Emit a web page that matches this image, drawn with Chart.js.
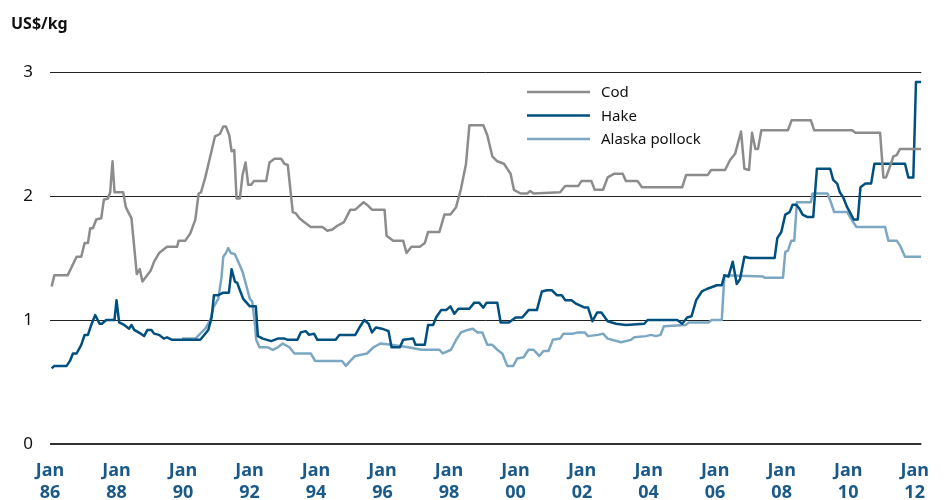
<!DOCTYPE html>
<html>
<head>
<meta charset="utf-8">
<title>Fish prices US$/kg</title>
<script src="https://cdn.jsdelivr.net/npm/chart.js@4/dist/chart.umd.min.js"></script>
<style>
  html, body { margin: 0; padding: 0; background: #fff; }
  #wrap { width: 945px; height: 500px; }
</style>
</head>
<body>
<div id="wrap"><canvas id="priceChart" width="945" height="500"></canvas></div>
<script>
// values, x = decimal year, y = US$/kg
const codYears = [1986.05, 1986.13, 1986.53, 1986.80, 1986.94, 1987.04, 1987.14, 1987.21, 1987.29, 1987.39,
  1987.54, 1987.62, 1987.74, 1987.81, 1987.88, 1987.94, 1988.20, 1988.28, 1988.45, 1988.61,
  1988.70, 1988.78, 1989.03, 1989.13, 1989.28, 1989.52, 1989.82, 1989.87, 1990.07, 1990.22,
  1990.37, 1990.47, 1990.54, 1990.67, 1990.82, 1990.96, 1991.11, 1991.21, 1991.29, 1991.39,
  1991.46, 1991.54, 1991.61, 1991.71, 1991.79, 1991.88, 1991.96, 1992.05, 1992.13, 1992.50,
  1992.60, 1992.75, 1992.95, 1993.05, 1993.15, 1993.30, 1993.39, 1993.50, 1993.64, 1993.84,
  1994.19, 1994.34, 1994.49, 1994.64, 1994.84, 1995.03, 1995.18, 1995.43, 1995.53, 1995.68,
  1996.06, 1996.12, 1996.32, 1996.62, 1996.72, 1996.87, 1997.12, 1997.27, 1997.37, 1997.71,
  1997.86, 1998.04, 1998.21, 1998.36, 1998.51, 1998.61, 1999.03, 1999.15, 1999.30, 1999.45,
  1999.65, 1999.85, 1999.95, 2000.15, 2000.35, 2000.44, 2000.54, 2001.34, 2001.49, 2001.88,
  2001.98, 2002.28, 2002.38, 2002.63, 2002.77, 2002.97, 2003.22, 2003.32, 2003.67, 2003.80,
  2005.01, 2005.13, 2005.78, 2005.88, 2006.30, 2006.45, 2006.60, 2006.78, 2006.88, 2007.02,
  2007.11, 2007.21, 2007.29, 2007.39, 2008.19, 2008.30, 2008.88, 2008.98, 2010.12, 2010.22,
  2010.96, 2011.06, 2011.14, 2011.26, 2011.36, 2011.46, 2011.56, 2012.20];
const codValues = [1.27, 1.36, 1.36, 1.51, 1.51, 1.62, 1.62, 1.74, 1.74, 1.81,
  1.82, 1.97, 1.98, 2.03, 2.28, 2.03, 2.03, 1.91, 1.82, 1.37,
  1.41, 1.31, 1.40, 1.47, 1.54, 1.59, 1.59, 1.64, 1.64, 1.70,
  1.81, 2.02, 2.03, 2.15, 2.32, 2.48, 2.50, 2.56, 2.56, 2.49,
  2.36, 2.37, 1.98, 1.98, 2.17, 2.27, 2.09, 2.09, 2.12, 2.12,
  2.27, 2.30, 2.30, 2.26, 2.25, 1.87, 1.86, 1.82, 1.79, 1.75,
  1.75, 1.72, 1.73, 1.76, 1.79, 1.89, 1.89, 1.95, 1.93, 1.89,
  1.89, 1.68, 1.64, 1.64, 1.54, 1.59, 1.59, 1.62, 1.71, 1.71,
  1.85, 1.85, 1.91, 2.06, 2.26, 2.57, 2.57, 2.49, 2.32, 2.28,
  2.26, 2.18, 2.05, 2.02, 2.02, 2.04, 2.02, 2.03, 2.08, 2.08,
  2.12, 2.12, 2.05, 2.05, 2.15, 2.18, 2.18, 2.12, 2.12, 2.07,
  2.07, 2.17, 2.17, 2.21, 2.21, 2.29, 2.34, 2.52, 2.22, 2.21,
  2.51, 2.38, 2.38, 2.53, 2.53, 2.61, 2.61, 2.53, 2.53, 2.51,
  2.51, 2.15, 2.15, 2.24, 2.32, 2.33, 2.38, 2.38];

const hakeYears = [1986.05, 1986.13, 1986.50, 1986.60, 1986.69, 1986.80, 1986.94, 1987.04, 1987.14, 1987.24,
  1987.36, 1987.49, 1987.56, 1987.69, 1987.94, 1988.00, 1988.08, 1988.23, 1988.38, 1988.45,
  1988.53, 1988.73, 1988.83, 1988.93, 1989.05, 1989.13, 1989.28, 1989.42, 1989.52, 1989.67,
  1990.52, 1990.76, 1990.86, 1990.93, 1991.06, 1991.21, 1991.38, 1991.46, 1991.56, 1991.63,
  1991.71, 1991.81, 1992.01, 1992.19, 1992.25, 1992.40, 1992.65, 1992.85, 1993.05, 1993.15,
  1993.44, 1993.54, 1993.69, 1993.79, 1993.94, 1994.04, 1994.59, 1994.70, 1995.18, 1995.33,
  1995.45, 1995.58, 1995.68, 1995.80, 1995.98, 1996.18, 1996.27, 1996.52, 1996.62, 1996.92,
  1996.99, 1997.27, 1997.37, 1997.52, 1997.61, 1997.76, 1997.91, 1998.04, 1998.16, 1998.28,
  1998.61, 1998.76, 1998.90, 1999.03, 1999.13, 1999.45, 1999.55, 1999.80, 2000.00, 2000.20,
  2000.39, 2000.64, 2000.79, 2000.94, 2001.09, 2001.24, 2001.39, 2001.49, 2001.68, 2001.83,
  2002.08, 2002.18, 2002.31, 2002.45, 2002.58, 2002.77, 2003.02, 2003.32, 2003.87, 2003.97,
  2004.86, 2005.01, 2005.16, 2005.29, 2005.43, 2005.60, 2005.75, 2005.85, 2006.05, 2006.20,
  2006.28, 2006.40, 2006.53, 2006.65, 2006.75, 2006.88, 2007.04, 2007.79, 2007.87, 2007.99,
  2008.11, 2008.24, 2008.33, 2008.43, 2008.53, 2008.63, 2008.78, 2008.95, 2009.06, 2009.46,
  2009.55, 2009.67, 2009.75, 2009.85, 2009.97, 2010.05, 2010.17, 2010.29, 2010.37, 2010.52,
  2010.69, 2010.79, 2011.71, 2011.81, 2011.96, 2012.04, 2012.20];
const hakeValues = [0.61, 0.63, 0.63, 0.67, 0.73, 0.73, 0.80, 0.88, 0.88, 0.96,
  1.04, 0.97, 0.97, 1.00, 1.00, 1.16, 0.98, 0.96, 0.93, 0.96,
  0.92, 0.89, 0.87, 0.92, 0.92, 0.89, 0.88, 0.85, 0.86, 0.84,
  0.84, 0.92, 1.02, 1.20, 1.20, 1.22, 1.22, 1.41, 1.31, 1.30,
  1.24, 1.17, 1.11, 1.11, 0.87, 0.85, 0.83, 0.85, 0.85, 0.84,
  0.84, 0.90, 0.91, 0.88, 0.89, 0.84, 0.84, 0.88, 0.88, 0.95,
  1.00, 0.97, 0.90, 0.94, 0.93, 0.91, 0.78, 0.78, 0.84, 0.85,
  0.80, 0.80, 0.96, 0.96, 1.02, 1.08, 1.08, 1.11, 1.05, 1.09,
  1.09, 1.14, 1.14, 1.10, 1.14, 1.14, 0.98, 0.98, 1.02, 1.02,
  1.08, 1.08, 1.23, 1.24, 1.24, 1.20, 1.20, 1.16, 1.16, 1.13,
  1.10, 1.10, 0.99, 1.06, 1.06, 0.99, 0.97, 0.96, 0.97, 1.00,
  1.00, 0.97, 1.02, 1.03, 1.16, 1.23, 1.25, 1.26, 1.28, 1.28,
  1.36, 1.35, 1.47, 1.29, 1.33, 1.51, 1.50, 1.50, 1.66, 1.71,
  1.85, 1.87, 1.93, 1.93, 1.90, 1.85, 1.83, 1.83, 2.22, 2.22,
  2.13, 2.10, 2.03, 1.99, 1.91, 1.87, 1.81, 1.81, 2.07, 2.10,
  2.10, 2.26, 2.26, 2.15, 2.15, 2.92, 2.92];

const pollockYears = [1989.97, 1990.37, 1990.52, 1990.67, 1990.82, 1990.91, 1991.06, 1991.16, 1991.21, 1991.29,
  1991.36, 1991.44, 1991.56, 1991.66, 1991.79, 1991.91, 1992.01, 1992.08, 1992.16, 1992.20,
  1992.30, 1992.55, 1992.70, 1992.85, 1993.00, 1993.20, 1993.35, 1993.84, 1993.97, 1994.78,
  1994.90, 1995.03, 1995.18, 1995.53, 1995.73, 1995.93, 1996.27, 1996.77, 1997.17, 1997.71,
  1997.81, 1998.06, 1998.21, 1998.36, 1998.56, 1998.71, 1998.86, 1999.00, 1999.15, 1999.30,
  1999.45, 1999.60, 1999.75, 1999.93, 2000.05, 2000.24, 2000.39, 2000.54, 2000.71, 2000.84,
  2000.99, 2001.12, 2001.34, 2001.44, 2001.73, 2001.88, 2002.08, 2002.18, 2002.48, 2002.63,
  2002.77, 2003.17, 2003.47, 2003.57, 2003.92, 2004.07, 2004.22, 2004.36, 2004.46, 2005.11,
  2005.21, 2005.80, 2005.90, 2006.20, 2006.28, 2007.44, 2007.49, 2008.04, 2008.11, 2008.19,
  2008.29, 2008.38, 2008.46, 2008.88, 2008.93, 2009.38, 2009.48, 2009.58, 2009.97, 2010.15,
  2010.25, 2011.11, 2011.21, 2011.46, 2011.56, 2011.71, 2012.20];
const pollockValues = [0.85, 0.85, 0.89, 0.93, 1.00, 1.10, 1.17, 1.35, 1.51, 1.54,
  1.58, 1.54, 1.53, 1.47, 1.39, 1.27, 1.17, 1.15, 0.97, 0.84,
  0.78, 0.78, 0.76, 0.78, 0.81, 0.78, 0.73, 0.73, 0.67, 0.67,
  0.63, 0.67, 0.71, 0.73, 0.78, 0.81, 0.80, 0.78, 0.76, 0.76,
  0.73, 0.76, 0.84, 0.90, 0.92, 0.93, 0.90, 0.90, 0.80, 0.80,
  0.76, 0.73, 0.63, 0.63, 0.69, 0.70, 0.76, 0.76, 0.71, 0.75,
  0.75, 0.84, 0.85, 0.89, 0.89, 0.90, 0.90, 0.87, 0.88, 0.89,
  0.85, 0.82, 0.84, 0.86, 0.87, 0.88, 0.87, 0.88, 0.95, 0.96,
  0.98, 0.98, 1.00, 1.00, 1.36, 1.35, 1.34, 1.34, 1.55, 1.56,
  1.64, 1.64, 1.95, 1.95, 2.02, 2.02, 1.95, 1.87, 1.87, 1.79,
  1.75, 1.75, 1.64, 1.64, 1.60, 1.51, 1.51];

const tickYears = [1986, 1988, 1990, 1992, 1994, 1996, 1998, 2000, 2002, 2004, 2006, 2008, 2010, 2012];
const yTicks = [0, 1, 2, 3];

const seriesNames = ['Cod', 'Hake', 'Alaska pollock'];
const seriesColors = ['#8c8c8c', '#00507f', '#7ca7c3'];

const toPoints = (xs, ys) => xs.map((x, i) => ({ x: x, y: ys[i] }));

// legend + unit label drawn by hand, the built-in legend can't sit there
const extrasPlugin = {
  id: 'extras',
  afterDraw(chart) {
    const ctx = chart.ctx;
    ctx.save();
    ctx.fillStyle = '#111';
    ctx.font = 'bold 16px "Noto Sans", sans-serif';
    ctx.textBaseline = 'alphabetic';
    ctx.textAlign = 'left';
    ctx.fillText('US$/kg', 11, 29);

    ctx.font = '15px "Noto Sans", sans-serif';
    ctx.textBaseline = 'middle';
    chart.data.datasets.forEach((ds, i) => {
      const y = 92 + i * 23.5;
      ctx.strokeStyle = ds.borderColor;
      ctx.lineWidth = 2.5;
      ctx.beginPath();
      ctx.moveTo(527, y);
      ctx.lineTo(590, y);
      ctx.stroke();
      ctx.fillStyle = '#111';
      ctx.fillText(ds.label, 601, y + 1);
    });
    ctx.restore();
  }
};

new Chart(document.getElementById('priceChart'), {
  type: 'line',
  data: {
    datasets: [
      { label: seriesNames[0], data: toPoints(codYears, codValues), borderColor: seriesColors[0] },
      { label: seriesNames[1], data: toPoints(hakeYears, hakeValues), borderColor: seriesColors[1] },
      { label: seriesNames[2], data: toPoints(pollockYears, pollockValues), borderColor: seriesColors[2] }
    ]
  },
  options: {
    responsive: false,
    animation: false,
    layout: { padding: { top: 72, right: 16, left: 0, bottom: 0 } },
    elements: {
      line: { borderWidth: 2.5, tension: 0, borderJoinStyle: 'round' },
      point: { radius: 0 }
    },
    plugins: {
      legend: { display: false },
      tooltip: { enabled: false }
    },
    scales: {
      x: {
        type: 'linear',
        min: 1986,
        max: 2012.2,
        grid: { display: false, drawTicks: false },
        border: { display: false },
        afterBuildTicks: (scale) => { scale.ticks = tickYears.map(v => ({ value: v })); },
        afterFit: (scale) => { scale.height = 56; },
        ticks: {
          padding: 16,
          maxRotation: 0,
          autoSkip: false,
          color: '#1b5a88',
          font: { family: '"Noto Sans", sans-serif', size: 18, weight: 'bold', lineHeight: 1.2 },
          callback: (v) => ['Jan', String(v).slice(2)]
        }
      },
      y: {
        min: 0,
        max: 3,
        border: { display: false },
        afterBuildTicks: (scale) => { scale.ticks = yTicks.map(v => ({ value: v })); },
        afterFit: (scale) => { scale.width = 50; },
        grid: {
          drawTicks: false,
          color: (c) => c.tick && c.tick.value === 0 ? '#333' : '#222',
          lineWidth: (c) => c.tick && c.tick.value === 0 ? 2 : 1
        },
        ticks: {
          padding: 17,
          color: '#111',
          font: { family: '"Noto Sans", sans-serif', size: 17 }
        }
      }
    }
  },
  plugins: [extrasPlugin]
});
</script>
</body>
</html>
